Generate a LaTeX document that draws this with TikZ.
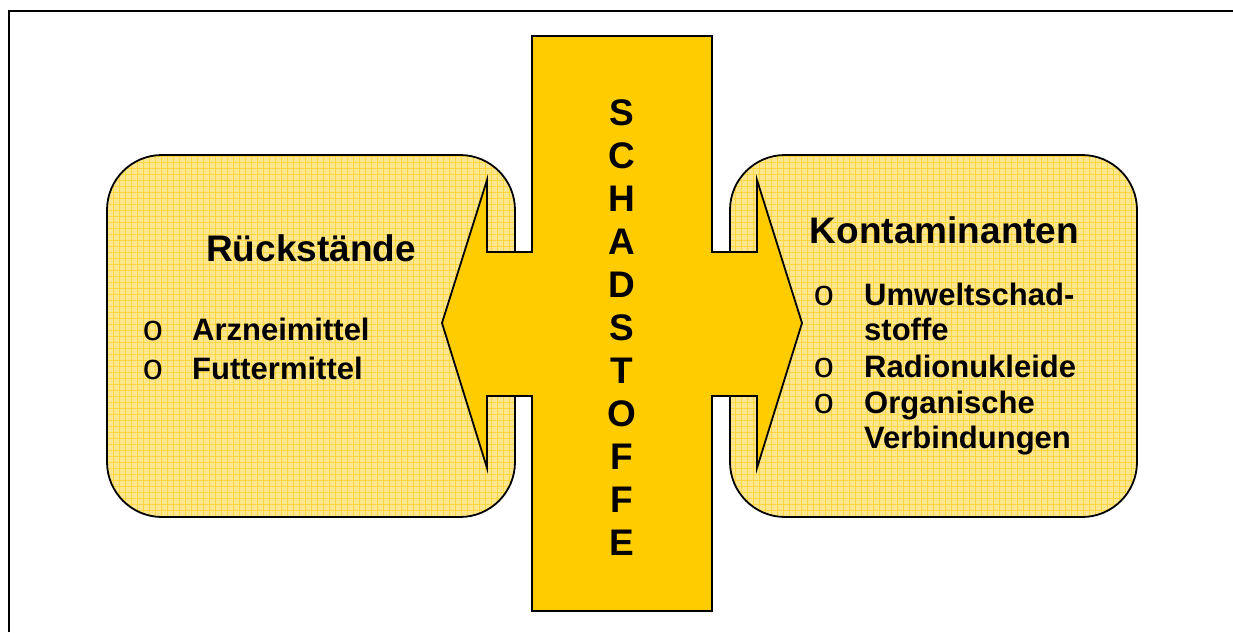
\documentclass[tikz,border=0pt]{standalone}
\usepackage{fontspec}
\setmainfont{Liberation Sans}
\newfontfamily\bulletfont{Liberation Mono}
\definecolor{barfill}{HTML}{FFCC00}
\definecolor{boxfill}{HTML}{FDE690}
\definecolor{gridcol}{HTML}{FFD740}
\begin{document}
\begin{tikzpicture}[x=1pt,y=-1pt,
  softbox/.style={draw=black, line width=1.8pt, rounded corners=55pt, fill=boxfill,
    minimum width=408pt, minimum height=362pt, inner sep=0pt,
    path picture={\draw[gridcol, line width=0.5pt] (path picture bounding box.south west) grid[step=6pt] (path picture bounding box.north east);}},
  titletext/.style={anchor=base, inner sep=0pt, font=\fontsize{37}{44}\selectfont\bfseries},
  itemtext/.style={anchor=base west, inner sep=0pt, font=\fontsize{31}{36}\selectfont\bfseries},
  bullettext/.style={anchor=base, inner sep=0pt, font=\bulletfont\fontsize{36}{40}\selectfont},
  lettertext/.style={anchor=base, inner sep=0pt, font=\fontsize{37}{43}\selectfont\bfseries},
]
\useasboundingbox (0,0) rectangle (1233,632);
\fill[white] (0,0) rectangle (1233,632);
% outer frame
\draw[line width=2.2pt] (9,632) -- (9,11) -- (1233,11);
% rounded boxes
\node[softbox] (left) at (311,336) {};
\node[softbox, minimum width=407pt] (right) at (933.5,336) {};
% cross with arrows
\draw[fill=barfill, line width=1.8pt, line join=miter]
  (532,36) -- (712,36) -- (712,252) -- (757,252) -- (757,180) -- (802,323)
  -- (757,468) -- (757,396) -- (712,396) -- (712,611) -- (532,611)
  -- (532,396) -- (487,396) -- (487,468) -- (442,323) -- (487,180)
  -- (487,252) -- (532,252) -- cycle;
% vertical word
\foreach \l [count=\i from 0] in {S,C,H,A,D,S,T,O,F,F,E}
  \node[lettertext] (letter\i) at (622,125+43*\i) {\l};
% left box text
\node[titletext] (ltitle) at (311,261) {Rückstände};
\node[bullettext] (lb1) at (153,340) {o};
\node[itemtext] (li1) at (192,340) {Arzneimittel};
\node[bullettext] (lb2) at (153,379) {o};
\node[itemtext] (li2) at (192,379) {Futtermittel};
% right box text
\node[titletext] (rtitle) at (944.5,243) {Kontaminanten};
\node[bullettext] (rb1) at (824,305) {o};
\node[itemtext] (ri1) at (864,305) {Umweltschad-};
\node[itemtext] (ri1b) at (864,340) {stoffe};
\node[bullettext] (rb2) at (824,377) {o};
\node[itemtext] (ri2) at (864,377) {Radionukleide};
\node[bullettext] (rb3) at (824,413) {o};
\node[itemtext] (ri3) at (864,413) {Organische};
\node[itemtext] (ri3b) at (864,448) {Verbindungen};
\end{tikzpicture}
\end{document}
